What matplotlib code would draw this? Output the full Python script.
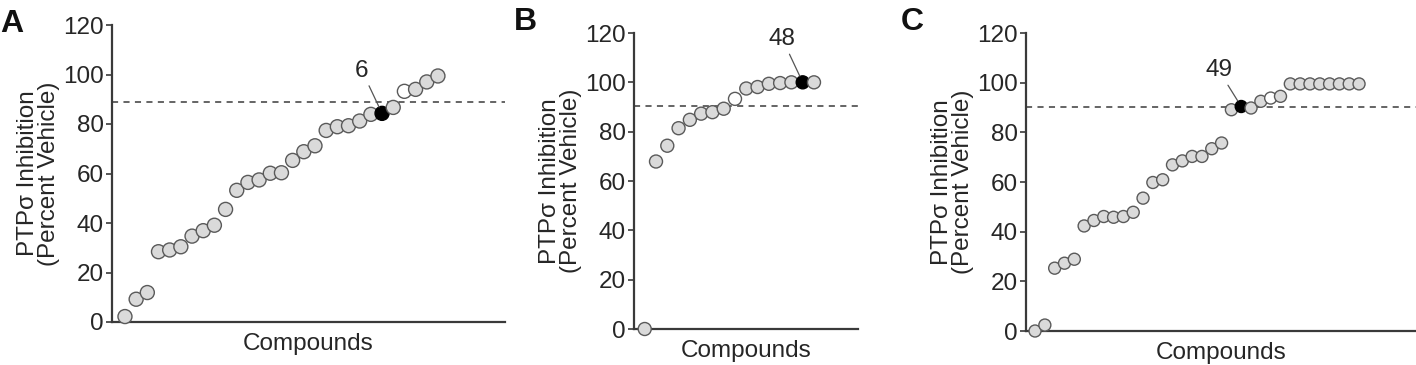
import matplotlib
matplotlib.use("Agg")
import matplotlib.pyplot as plt

plt.rcParams['font.family'] = ['Liberation Sans', 'DejaVu Sans']

# ---- data ----
a_values = [2.2, 9.2, 11.9, 28.4, 29.1, 30.4, 34.7, 36.9, 39.1, 45.5, 53.2, 56.4,
            57.4, 60.1, 60.3, 65.3, 68.8, 71.2, 77.4, 78.9, 79.3, 81.2, 83.9, 84.3,
            86.7, 93.2, 94.0, 97.0, 99.4]
a_black = 23
a_white = [25]
a_label = "6"
a_threshold = 88.8

b_values = [0.0, 67.9, 74.3, 81.4, 84.8, 87.3, 87.9, 89.3, 93.3, 97.5, 98.1, 99.4,
            99.7, 100.0, 100.0, 100.0]
b_black = 14
b_white = [8]
b_label = "48"
b_threshold = 90.5

c_values = [0.0, 2.4, 25.3, 27.3, 28.9, 42.3, 44.5, 46.1, 45.8, 46.1, 47.8, 53.5,
            59.8, 60.9, 66.9, 68.5, 70.3, 70.3, 73.4, 75.7, 89.1, 90.4, 89.8, 92.5,
            93.8, 94.5, 99.5, 99.5, 99.5, 99.5, 99.5, 99.5, 99.5, 99.5]
c_black = 21
c_white = [24]
c_label = "49"
c_threshold = 90.2

yticks = [0, 20, 40, 60, 80, 100, 120]
ylabel = "PTP\u03c3 Inhibition\n(Percent Vehicle)"
xlabel = "Compounds"
panel_letters = ["A", "B", "C"]

W, H = 1416, 365
fig = plt.figure(figsize=(W / 100, H / 100), dpi=100)

dark = "#3a3a3a"
face = "#dadada"
txt = "#262626"

def px_axes(left, right, top, bottom):
    return fig.add_axes([left / W, 1 - bottom / H, (right - left) / W, (bottom - top) / H])

panels = [
    dict(vals=a_values, black=a_black, white=a_white, label=a_label, thr=a_threshold,
         box=(112, 505, 25, 322), xlim=(-1.16, 34.0), ms=14.0,
         text=(21.2, 101.5), letter=(0, 24)),
    dict(vals=b_values, black=b_black, white=b_white, label=b_label, thr=b_threshold,
         box=(634, 858, 33, 329), xlim=(-0.95, 18.9), ms=13.0,
         text=(12.2, 117.5), letter=(514, 22)),
    dict(vals=c_values, black=c_black, white=c_white, label=c_label, thr=c_threshold,
         box=(1026, 1416, 33, 331), xlim=(-0.92, 38.8), ms=12.0,
         text=(18.7, 105.0), letter=(901, 22)),
]

for p, letter in zip(panels, panel_letters):
    l, r, t, b = p['box']
    ax = px_axes(l, r, t, b)
    vals = p['vals']
    n = len(vals)
    xs = list(range(n))
    faces = []
    edges = []
    for i in xs:
        if i == p['black']:
            faces.append('black')
            edges.append('black')
        elif i in p['white']:
            faces.append('white')
            edges.append('#5a5a5a')
        else:
            faces.append(face)
            edges.append('#5a5a5a')
    ms_pt = p['ms'] * 0.72
    ax.axhline(p['thr'], color=dark, lw=1.1, ls=(0, (4, 3.5)), zorder=1)
    ax.scatter(xs, vals, s=ms_pt ** 2, c=faces, edgecolors=edges,
               linewidths=1.0, zorder=3, clip_on=False)
    ax.set_xlim(*p['xlim'])
    ax.set_ylim(0, 120)
    ax.set_yticks(yticks)
    ax.set_xticks([])
    for s in ['top', 'right']:
        ax.spines[s].set_visible(False)
    for s in ['left', 'bottom']:
        ax.spines[s].set_color(dark)
        ax.spines[s].set_linewidth(1.6)
    ax.tick_params(axis='y', direction='out', length=4, width=1.2, color=dark,
                   labelsize=17.5, labelcolor=txt, pad=2)
    ax.set_xlabel(xlabel, fontsize=17.5, color=txt, labelpad=8)
    ax.set_ylabel(ylabel, fontsize=17.5, color=txt, labelpad=2, linespacing=0.95)
    ax.annotate(p['label'], xy=(p['black'], vals[p['black']]), xytext=p['text'],
                ha='center', va='center', fontsize=17.5, color=txt,
                arrowprops=dict(arrowstyle='-', color="#555555", lw=0.9,
                                shrinkA=1, shrinkB=5))
    fig.text(p['letter'][0] / W, 1 - p['letter'][1] / H, letter, fontsize=23,
             fontweight='bold', ha='left', va='center', color="#111111")

fig.savefig("out.png", dpi=100)
